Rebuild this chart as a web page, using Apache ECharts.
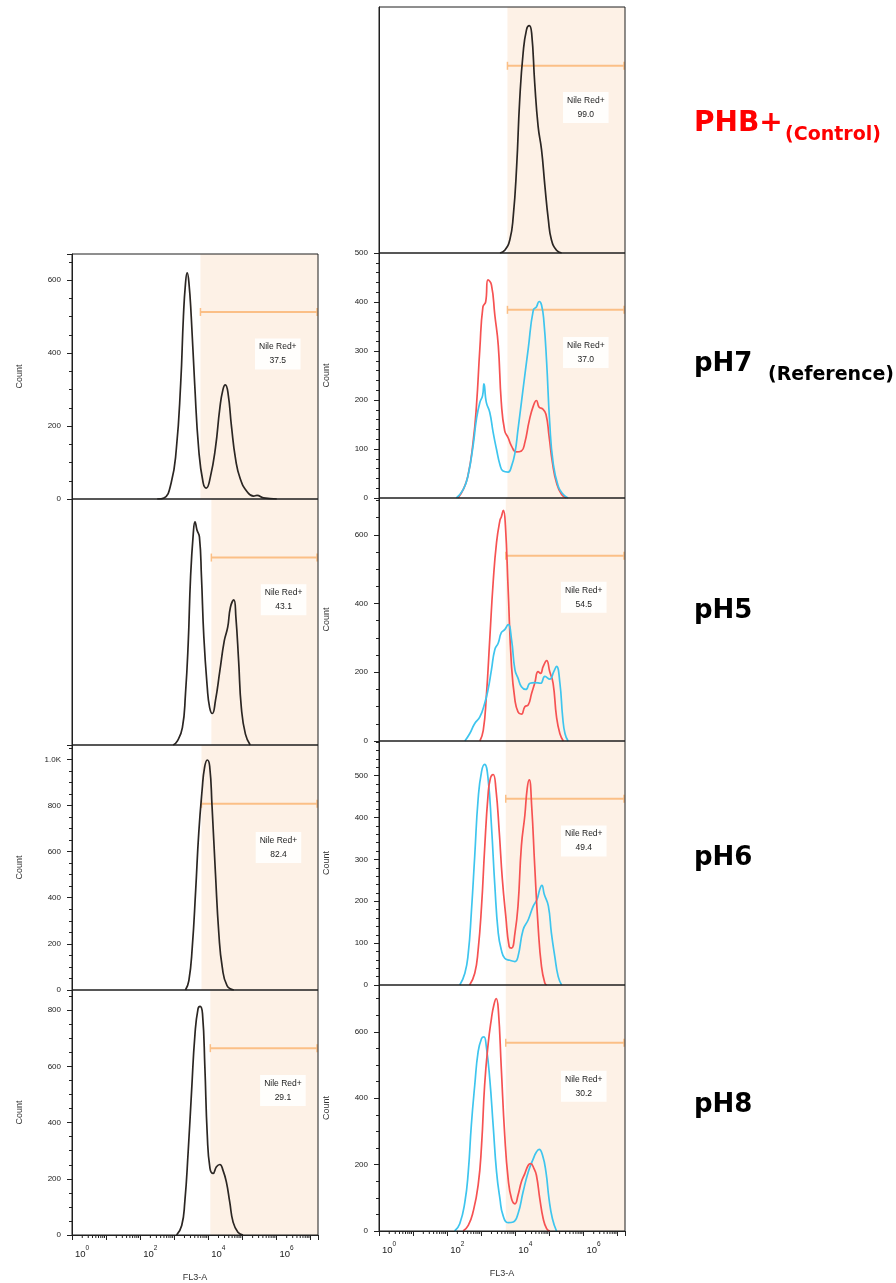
<!DOCTYPE html>
<html><head><meta charset="utf-8">
<script src="https://cdn.jsdelivr.net/npm/echarts@6/dist/echarts.min.js"></script>
<style>html,body{margin:0;padding:0;background:#fff}#c{width:896px;height:1283px}</style>
</head><body><div id="c"></div>
<script>
// x = log10(FL3-A), y = Count
const phbBlack = [[3.55,0],[3.69,11],[3.84,54],[3.94,149],[4.04,352],[4.13,623],[4.23,813],[4.33,908],[4.41,924],[4.48,894],[4.57,691],[4.67,515],[4.77,420],[4.87,271],[4.97,136],[5.06,54],[5.21,11],[5.36,0]];
const l7Black = [[2.50,0],[2.70,3],[2.91,44],[3.06,135],[3.19,317],[3.27,500],[3.33,590],[3.38,620],[3.43,595],[3.50,500],[3.60,317],[3.72,135],[3.85,44],[3.94,30],[4.06,60],[4.21,140],[4.34,250],[4.43,300],[4.50,313],[4.58,290],[4.68,200],[4.80,110],[4.94,55],[5.14,20],[5.33,8],[5.43,10],[5.62,3],[6.01,0]];
const r7Red = [[2.32,0],[2.47,17],[2.61,45],[2.76,113],[2.86,188],[2.96,305],[3.05,390],[3.13,400],[3.20,445],[3.30,435],[3.40,373],[3.50,312],[3.59,195],[3.69,137],[3.79,123],[3.89,106],[4.03,94],[4.18,96],[4.28,113],[4.41,158],[4.53,188],[4.62,199],[4.70,185],[4.80,182],[4.90,171],[4.99,127],[5.09,72],[5.21,31],[5.36,7],[5.50,0]];
const r7Blue = [[2.27,0],[2.47,17],[2.61,45],[2.76,106],[2.86,161],[2.96,195],[3.04,209],[3.08,233],[3.15,195],[3.25,175],[3.35,134],[3.45,99],[3.55,68],[3.64,55],[3.79,53],[3.89,65],[3.99,92],[4.08,140],[4.23,223],[4.38,305],[4.53,384],[4.62,390],[4.70,401],[4.77,394],[4.84,360],[4.92,277],[5.01,154],[5.11,72],[5.26,24],[5.41,7],[5.55,0]];
const l5Black = [[2.97,0],[3.09,16],[3.24,71],[3.33,207],[3.41,411],[3.48,683],[3.56,860],[3.61,907],[3.67,873],[3.74,846],[3.80,683],[3.87,438],[3.97,234],[4.04,152],[4.12,128],[4.21,180],[4.34,302],[4.47,424],[4.57,479],[4.65,560],[4.75,590],[4.81,520],[4.89,343],[4.97,152],[5.09,44],[5.23,0]];
const r5Red = [[2.96,0],[3.06,31],[3.15,129],[3.25,295],[3.35,461],[3.45,578],[3.55,642],[3.59,652],[3.65,671],[3.71,627],[3.79,442],[3.89,217],[3.99,119],[4.08,85],[4.18,78],[4.28,100],[4.38,105],[4.48,139],[4.57,168],[4.67,202],[4.74,197],[4.82,217],[4.92,234],[5.01,202],[5.11,168],[5.21,70],[5.31,21],[5.41,0]];
const r5Blue = [[2.52,0],[2.66,21],[2.81,51],[2.96,70],[3.10,109],[3.20,149],[3.30,207],[3.40,266],[3.50,285],[3.59,315],[3.69,324],[3.79,339],[3.89,295],[3.99,207],[4.08,183],[4.18,158],[4.31,150],[4.43,168],[4.57,170],[4.74,168],[4.87,188],[5.01,180],[5.13,202],[5.21,217],[5.31,168],[5.39,70],[5.46,21],[5.55,0]];
const l6Black = [[3.33,0],[3.43,41],[3.53,186],[3.63,433],[3.72,680],[3.82,869],[3.89,964],[3.97,997],[4.04,971],[4.11,797],[4.21,506],[4.31,244],[4.41,99],[4.55,19],[4.75,0]];
const r6Blue = [[2.37,0],[2.52,28],[2.62,76],[2.71,173],[2.81,309],[2.91,445],[3.01,510],[3.10,527],[3.20,494],[3.30,381],[3.40,237],[3.50,124],[3.59,84],[3.69,64],[3.84,59],[3.99,56],[4.08,68],[4.23,132],[4.38,156],[4.53,189],[4.64,205],[4.72,229],[4.78,238],[4.85,217],[4.97,189],[5.06,124],[5.16,68],[5.26,20],[5.36,0]];
const r6Red = [[2.66,0],[2.81,28],[2.91,84],[3.01,189],[3.10,325],[3.20,453],[3.27,494],[3.35,503],[3.43,470],[3.53,365],[3.62,253],[3.72,165],[3.82,92],[3.89,88],[3.99,124],[4.08,189],[4.18,333],[4.28,405],[4.35,470],[4.41,490],[4.48,429],[4.57,285],[4.67,140],[4.77,44],[4.87,4],[4.92,0]];
const l8Black = [[3.07,0],[3.22,34],[3.31,117],[3.41,297],[3.51,513],[3.61,716],[3.70,806],[3.76,814],[3.83,788],[3.90,596],[3.97,357],[4.05,237],[4.14,219],[4.24,243],[4.34,251],[4.43,231],[4.53,189],[4.63,117],[4.73,45],[4.87,10],[5.02,0]];
const r8Blue = [[2.22,0],[2.37,22],[2.52,87],[2.62,178],[2.71,319],[2.81,439],[2.91,540],[3.01,580],[3.08,585],[3.15,555],[3.25,459],[3.35,319],[3.45,178],[3.55,97],[3.64,47],[3.79,25],[3.94,27],[4.08,52],[4.23,118],[4.38,178],[4.53,218],[4.62,238],[4.70,246],[4.80,228],[4.90,178],[4.99,97],[5.09,37],[5.21,0]];
const r8Red = [[2.47,0],[2.62,17],[2.76,57],[2.91,138],[3.01,258],[3.10,439],[3.20,560],[3.30,640],[3.37,680],[3.44,700],[3.50,670],[3.59,489],[3.69,288],[3.79,158],[3.89,97],[3.99,82],[4.08,108],[4.18,148],[4.28,173],[4.38,198],[4.45,203],[4.55,188],[4.62,168],[4.72,97],[4.82,37],[4.92,7],[5.01,0]];

const rowLabels = ['pH7', 'pH5', 'pH6', 'pH8'];
const controlLabel = 'PHB+';
const controlNote = '(Control)';
const refNote = '(Reference)';
const pctLeft = ['37.5', '43.1', '82.4', '29.1'];
const pctRight = ['99.0', '37.0', '54.5', '49.4', '30.2'];
const gateLeft = [[3.77, 513], [4.09, 762], [3.80, 807], [4.06, 665]];
const gateRight = [[3.77, 761], [3.77, 384], [3.72, 539], [3.72, 445], [3.72, 567]];
const boxLeft = [[6.04, 398], [6.21, 590], [6.06, 618], [6.19, 514]];
const boxRight = [[6.07, 591], [6.07, 297], [6.01, 418], [6.01, 344], [6.01, 436]];
const yMaxLeft = [672, 1000, 1062, 872];
const yMaxRight = [1000, 500, 707, 583, 741];
const yStepLeft = [200, 0, 200, 200];
const yStepRight = [0, 100, 200, 100, 200];
const xDecades = [0, 1, 2, 3, 4, 5, 6, 7];
const xMinorMult = [2, 3, 4, 5, 6, 7, 8, 9];
const X_MAX = 7.22;
const gateLabel = 'Nile Red+';
const xName = 'FL3-A';
const yName = 'Count';

const leftCurves = [[l7Black], [l5Black], [l6Black], [l8Black]];
const rightCurves = [[phbBlack], [r7Red, r7Blue], [r5Red, r5Blue], [r6Blue, r6Red], [r8Blue, r8Red]];
const curveColor = new Map([[phbBlack,'#2b2623'],[l7Black,'#2b2623'],[l5Black,'#2b2623'],[l6Black,'#2b2623'],[l8Black,'#2b2623'],
  [r7Red,'#f65252'],[r5Red,'#f65252'],[r6Red,'#f65252'],[r8Red,'#f65252'],
  [r7Blue,'#3ec5ee'],[r5Blue,'#3ec5ee'],[r6Blue,'#3ec5ee'],[r8Blue,'#3ec5ee']]);

const minorX = [];
xDecades.forEach(d => xMinorMult.forEach(m => { const v = d + Math.log10(m); if (v < X_MAX) minorX.push(v); }));

const SHADE = '#fdf1e6', GATE = '#fbbf86', INK = '#222';
const FONT = 'Liberation Sans';
const grids = [], xAxes = [], yAxes = [], series = [];

function addPanel(p) {
  const gi = grids.length;
  grids.push({left: p.left, top: p.top, width: p.width, height: p.height, show: true,
    borderColor: '#1e1e1e', borderWidth: 1, backgroundColor: 'transparent', z: 5,
    containLabel: false, outerBoundsMode: 'none'});
  const x = {type: 'value', gridIndex: gi, min: 0, max: X_MAX, interval: 1,
    splitLine: {show: false}, axisLine: {show: false}, axisTick: {show: false}, axisLabel: {show: false}};
  if (p.bottom) {
    Object.assign(x, {
      axisLine: {show: true, lineStyle: {color: INK, width: 1}},
      axisTick: {show: true, length: 5, lineStyle: {color: INK, width: 1}},
      axisLabel: {show: true, margin: 10, align: 'left', color: INK,
        formatter: v => (Math.abs(v - Math.round(v)) < 1e-6 && Math.round(v) % 2 === 0) ? '{b|10}{s|' + Math.round(v) + '}' : '',
        rich: {b: {fontSize: 9.5, fontFamily: FONT, color: INK, lineHeight: 14, verticalAlign: 'bottom', padding: [0, 0, 0, 3]},
               s: {fontSize: 6.5, fontFamily: FONT, color: INK, lineHeight: 10, verticalAlign: 'top'}}},
      name: xName, nameLocation: 'middle', nameGap: 38,
      nameTextStyle: {fontSize: 9, fontFamily: FONT, color: '#333'}
    });
  }
  xAxes.push(x);
  const step = p.step;
  const y = {type: 'value', gridIndex: gi, min: 0, max: p.ymax, splitLine: {show: false},
    axisLine: {show: true, lineStyle: {color: INK, width: 1}}};
  if (step) {
    Object.assign(y, {interval: step,
      axisTick: {show: true, length: 5, lineStyle: {color: INK, width: 1}},
      minorTick: {show: true, splitNumber: step === 200 ? 4 : 5, length: 3, lineStyle: {color: INK, width: 1}},
      axisLabel: {show: true, margin: 11, fontSize: 8, fontFamily: FONT, color: INK,
        formatter: v => (v % step === 0) ? (v >= 1000 ? (v / 1000).toFixed(1) + 'K' : String(v)) : ''},
      name: yName, nameLocation: 'middle', nameGap: 48,
      nameTextStyle: {fontSize: 9, fontFamily: FONT, color: '#333'}});
  } else {
    Object.assign(y, {axisTick: {show: false}, axisLabel: {show: false}});
  }
  yAxes.push(y);

  const g = p.gate, b = p.box, ymax = p.ymax, pct = p.pct;
  series.push({type: 'custom', xAxisIndex: gi, yAxisIndex: gi, z: 1, silent: true, animation: false,
    data: [[g[0], g[1]]],
    renderItem: (params, api) => {
      const a0 = api.coord([g[0], 0]), a1 = api.coord([X_MAX, ymax]);
      const g0 = api.coord([g[0], g[1]]), g1 = api.coord([X_MAX, g[1]]);
      const bc = api.coord([b[0], b[1]]);
      return {type: 'group', children: [
        {type: 'rect', shape: {x: a0[0], y: a1[1], width: a1[0] - a0[0], height: a0[1] - a1[1]}, style: {fill: SHADE}},
        {type: 'line', shape: {x1: g0[0], y1: g0[1], x2: g1[0] - 1, y2: g1[1]}, style: {stroke: GATE, lineWidth: 2}},
        {type: 'line', shape: {x1: g0[0], y1: g0[1] - 4, x2: g0[0], y2: g0[1] + 4}, style: {stroke: GATE, lineWidth: 1.5}},
        {type: 'line', shape: {x1: g1[0] - 1, y1: g1[1] - 4, x2: g1[0] - 1, y2: g1[1] + 4}, style: {stroke: GATE, lineWidth: 1.5}},
        {type: 'text', x: bc[0], y: bc[1], z2: 10, style: {text: gateLabel + '\n' + pct, fill: '#222',
          fontSize: 8.5, fontFamily: FONT, align: 'center', verticalAlign: 'middle', lineHeight: 14,
          backgroundColor: '#fffefc', padding: [2, 4, 1, 4]}}
      ]};
    }});
  p.curves.forEach(c => series.push({type: 'line', xAxisIndex: gi, yAxisIndex: gi, data: c, z: 3,
    smooth: 0.5, showSymbol: false, symbol: 'none', silent: true, animation: false,
    lineStyle: {width: 1.7, color: curveColor.get(c), join: 'round'}}));
  if (p.bottom) {
    series.push({type: 'custom', xAxisIndex: gi, yAxisIndex: gi, z: 4, silent: true, animation: false, clip: false,
      data: minorX.map(v => [v, 0]),
      renderItem: (params, api) => {
        const q = api.coord([api.value(0), 0]);
        return {type: 'line', shape: {x1: q[0], y1: q[1], x2: q[0], y2: q[1] + 3}, style: {stroke: INK, lineWidth: 1}};
      }});
  }
}

const leftTops = [254, 499, 745, 990], leftH = [245, 246, 245, 245];
const rightTops = [7, 253, 498, 741, 985], rightH = [246, 245, 243, 244, 246];
for (let i = 0; i < 4; i++) addPanel({left: 72, width: 246, top: leftTops[i], height: leftH[i], ymax: yMaxLeft[i], step: yStepLeft[i],
  gate: gateLeft[i], box: boxLeft[i], pct: pctLeft[i], curves: leftCurves[i], bottom: i === 3});
for (let i = 0; i < 5; i++) addPanel({left: 379, width: 246, top: rightTops[i], height: rightH[i], ymax: yMaxRight[i], step: yStepRight[i],
  gate: gateRight[i], box: boxRight[i], pct: pctRight[i], curves: rightCurves[i], bottom: i === 4});

const rowY = [364, 611, 858, 1105];
const graphic = [
  {type: 'text', x: 694, y: 124, style: {text: controlLabel, fill: '#ff0000', fontSize: 28, fontWeight: 'bold', fontFamily: 'DejaVu Sans', verticalAlign: 'middle'}},
  {type: 'text', x: 785, y: 135.5, style: {text: controlNote, fill: '#ff0000', fontSize: 19, fontWeight: 'bold', fontFamily: 'DejaVu Sans', verticalAlign: 'middle'}},
  {type: 'text', x: 768, y: 375.5, style: {text: refNote, fill: '#000', fontSize: 19, fontWeight: 'bold', fontFamily: 'DejaVu Sans', verticalAlign: 'middle'}}
];
rowLabels.forEach((t, i) => graphic.push({type: 'text', x: 694, y: rowY[i],
  style: {text: t, fill: '#000', fontSize: 26, fontWeight: 'bold', fontFamily: 'DejaVu Sans', verticalAlign: 'middle'}}));

const chart = echarts.init(document.getElementById('c'), null, {width: 896, height: 1283});
chart.setOption({animation: false, backgroundColor: '#fff', grid: grids, xAxis: xAxes, yAxis: yAxes, series: series, graphic: graphic});
</script></body></html>
